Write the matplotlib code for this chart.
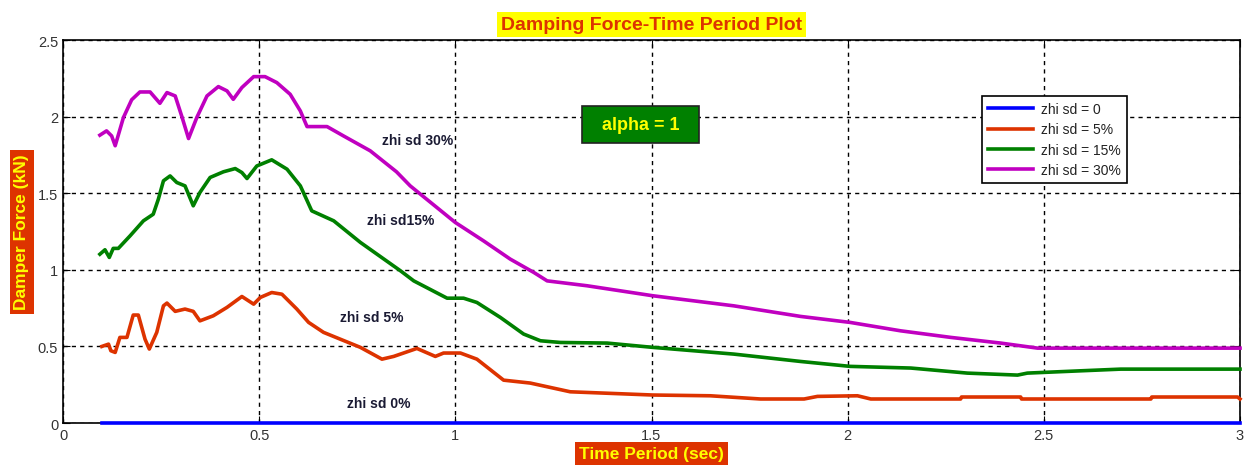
import matplotlib
matplotlib.use('Agg')
import matplotlib.pyplot as plt

plt.rcParams['font.family'] = ['Liberation Sans', 'DejaVu Sans']

# zhi sd = 0
x0 = [0.10, 3.0]
y0 = [0.0, 0.0]

# zhi sd = 5%
x5 = [0.099, 0.116, 0.122, 0.133, 0.145, 0.163, 0.179, 0.192, 0.209, 0.220, 0.239,
      0.256, 0.265, 0.286, 0.311, 0.332, 0.349, 0.383, 0.418, 0.456, 0.486, 0.503,
      0.532, 0.558, 0.596, 0.626, 0.664, 0.758, 0.813, 0.843, 0.885, 0.902, 0.949,
      0.970, 1.013, 1.055, 1.123, 1.191, 1.293, 1.503, 1.650, 1.778, 1.889, 1.923,
      2.025, 2.059, 2.288, 2.290, 2.441, 2.443, 2.773, 2.775, 2.994, 3.0]
y5 = [0.50, 0.515, 0.472, 0.461, 0.559, 0.559, 0.705, 0.705, 0.548, 0.483, 0.592,
      0.765, 0.783, 0.729, 0.744, 0.729, 0.667, 0.70, 0.755, 0.826, 0.776, 0.82,
      0.852, 0.841, 0.744, 0.657, 0.592, 0.494, 0.417, 0.435, 0.472, 0.487, 0.435,
      0.457, 0.457, 0.417, 0.28, 0.261, 0.204, 0.183, 0.178, 0.157, 0.157, 0.174,
      0.178, 0.157, 0.157, 0.17, 0.17, 0.157, 0.157, 0.17, 0.17, 0.157]

# zhi sd = 15%
x15 = [0.094, 0.107, 0.118, 0.128, 0.141, 0.171, 0.205, 0.230, 0.243, 0.256, 0.273,
       0.290, 0.311, 0.332, 0.349, 0.375, 0.409, 0.439, 0.456, 0.469, 0.494, 0.532,
       0.571, 0.605, 0.634, 0.690, 0.758, 0.860, 0.894, 0.979, 1.021, 1.055, 1.115,
       1.174, 1.217, 1.268, 1.387, 1.503, 1.710, 1.880, 2.006, 2.161, 2.305, 2.433,
       2.458, 2.594, 2.696, 3.0]
y15 = [1.102, 1.131, 1.081, 1.14, 1.14, 1.222, 1.32, 1.363, 1.461, 1.581, 1.613,
       1.57, 1.548, 1.418, 1.505, 1.603, 1.64, 1.661, 1.635, 1.596, 1.678, 1.718,
       1.657, 1.548, 1.385, 1.32, 1.179, 0.994, 0.928, 0.815, 0.815, 0.787, 0.689,
       0.581, 0.537, 0.526, 0.522, 0.494, 0.45, 0.402, 0.37, 0.359, 0.326, 0.313,
       0.326, 0.341, 0.352, 0.352]

# zhi sd = 30%
x30 = [0.094, 0.111, 0.124, 0.133, 0.154, 0.175, 0.196, 0.222, 0.247, 0.265, 0.286,
       0.303, 0.320, 0.341, 0.367, 0.396, 0.418, 0.434, 0.456, 0.486, 0.515, 0.545,
       0.579, 0.605, 0.622, 0.673, 0.715, 0.783, 0.850, 0.885, 1.0, 1.072, 1.140,
       1.200, 1.234, 1.336, 1.503, 1.710, 1.880, 2.006, 2.135, 2.263, 2.390, 2.484,
       3.0]
y30 = [1.879, 1.907, 1.874, 1.81, 1.994, 2.11, 2.161, 2.161, 2.087, 2.157, 2.135,
       2.0, 1.857, 1.994, 2.135, 2.196, 2.168, 2.113, 2.19, 2.261, 2.261, 2.222,
       2.146, 2.037, 1.935, 1.935, 1.874, 1.777, 1.64, 1.548, 1.309, 1.189, 1.07,
       0.983, 0.928, 0.896, 0.831, 0.765, 0.696, 0.657, 0.602, 0.559, 0.522, 0.489,
       0.489]

series = [
    (x0, y0, 'zhi sd = 0', '#0000ff'),
    (x5, y5, 'zhi sd = 5%', '#dd3300'),
    (x15, y15, 'zhi sd = 15%', '#008000'),
    (x30, y30, 'zhi sd = 30%', '#c000c0'),
]

fig = plt.figure(figsize=(12.5, 4.77), dpi=100)
ax = fig.add_axes([0.0504, 0.111, 0.9416, 0.803])

for xs, ys, lab, col in series:
    ax.plot(xs, ys, color=col, lw=2.6, label=lab, solid_joinstyle='round',
            clip_on=False, zorder=3)

ax.set_xlim(0, 3)
ax.set_ylim(0, 2.5)
ax.set_xticks([0, 0.5, 1, 1.5, 2, 2.5, 3])
ax.set_xticklabels(['0', '0.5', '1', '1.5', '2', '2.5', '3'])
ax.set_yticks([0, 0.5, 1, 1.5, 2, 2.5])
ax.set_yticklabels(['0', '0.5', '1', '1.5', '2', '2.5'])
ax.tick_params(direction='in', length=5, labelsize=10.5, colors='black',
               labelcolor='#333333', top=True, right=True)
ax.set_axisbelow(True)
ax.grid(True, color='black', linestyle=(0, (3, 3)), linewidth=1)
for s in ax.spines.values():
    s.set_linewidth(1.2)
    s.set_zorder(2)

ax.set_title('Damping Force-Time Period Plot', fontsize=14, fontweight='bold',
             color='#dd3300', pad=8,
             bbox=dict(facecolor='#ffff00', edgecolor='none', pad=3))
ax.set_xlabel('Time Period (sec)', fontsize=12.5, fontweight='bold', color='#ffff00',
              labelpad=3, bbox=dict(facecolor='#dd3300', edgecolor='none', pad=3))
ax.set_ylabel('Damper Force (kN)', fontsize=12.5, fontweight='bold', color='#ffff00',
              labelpad=6, bbox=dict(facecolor='#dd3300', edgecolor='none', pad=3))

txt = '#1a1a33'
ax.text(0.905, 1.846, 'zhi sd 30%', fontsize=10, fontweight='bold', color=txt,
        ha='center', va='center')
ax.text(0.86, 1.324, 'zhi sd15%', fontsize=10, fontweight='bold', color=txt,
        ha='center', va='center')
ax.text(0.786, 0.691, 'zhi sd 5%', fontsize=10, fontweight='bold', color=txt,
        ha='center', va='center')
ax.text(0.804, 0.13, 'zhi sd 0%', fontsize=10, fontweight='bold', color=txt,
        ha='center', va='center')

ax.text(1.472, 1.95, '  alpha = 1  ', fontsize=13, fontweight='bold', color='#ffff00',
        ha='center', va='center', zorder=5,
        bbox=dict(facecolor='#008000', edgecolor='#222222', lw=1.2,
                  boxstyle='square,pad=0.55'))

leg = ax.legend(loc='upper right', bbox_to_anchor=(0.904, 0.854), fontsize=10,
                frameon=True, fancybox=False, edgecolor='black', framealpha=1,
                handlelength=3.2, handletextpad=0.6, borderaxespad=0,
                borderpad=0.45, labelspacing=0.45)
leg.get_frame().set_linewidth(1.2)
leg.set_zorder(6)
for t in leg.get_texts():
    t.set_color('#222222')

fig.savefig('out.png', dpi=100)
